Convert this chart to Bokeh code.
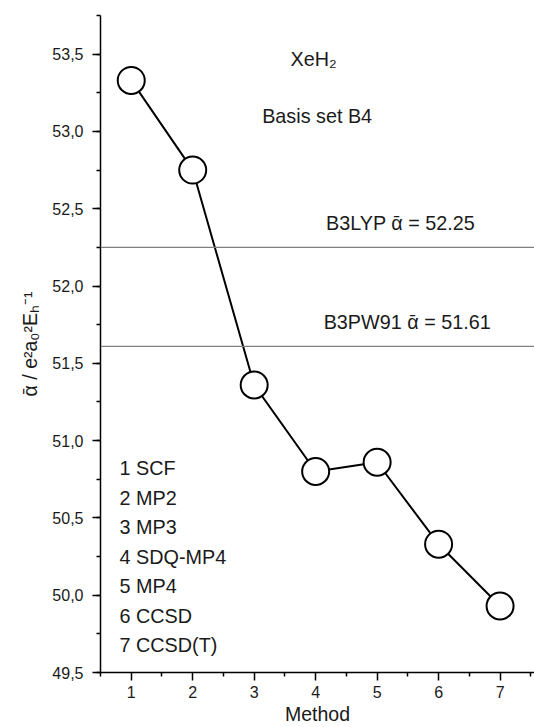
from bokeh.plotting import figure
from bokeh.models import FixedTicker, CustomJSTickFormatter, Span, Label, ColumnDataSource
from bokeh.core.properties import value
from bokeh.embed import file_html
from bokeh.resources import INLINE

# Data
methods = [1, 2, 3, 4, 5, 6, 7]
alpha_mean = [53.33, 52.75, 51.36, 50.80, 50.86, 50.33, 49.93]
method_names = ["1 SCF", "2 MP2", "3 MP3", "4 SDQ-MP4", "5 MP4", "6 CCSD", "7 CCSD(T)"]
b3lyp_value = 52.25
b3pw91_value = 51.61
x_ticks = [1, 2, 3, 4, 5, 6, 7]
y_ticks = [49.5, 50.0, 50.5, 51.0, 51.5, 52.0, 52.5, 53.0, 53.5]

FONT = "Liberation Sans"
TXT = "#1a1a1a"
ABAR = "\u1fb1"

p = figure(width=534, height=727, x_range=(0.5, 7.56), y_range=(49.5, 53.75),
           output_backend="svg", toolbar_location=None,
           min_border_left=100, min_border_right=0, min_border_top=15, min_border_bottom=0)
p.outline_line_color = None
p.xgrid.visible = False
p.ygrid.visible = False
p.background_fill_color = "white"

for ax in (p.xaxis[0], p.yaxis[0]):
    ax.axis_line_width = 1.5
    ax.axis_line_color = "black"
    ax.major_tick_line_width = 1.5
    ax.minor_tick_line_width = 1.5
    ax.major_tick_in = 0
    ax.minor_tick_in = 0
    ax.major_tick_out = 8
    ax.minor_tick_out = 4
    ax.major_label_text_font = FONT
    ax.major_label_text_font_size = "16px"
    ax.major_label_text_color = TXT
    ax.axis_label_text_font = FONT
    ax.axis_label_text_font_size = "19.5px"
    ax.axis_label_text_font_style = "normal"
    ax.axis_label_text_color = TXT
    ax.major_label_standoff = 9

p.xaxis.ticker = FixedTicker(ticks=x_ticks, minor_ticks=[t - 0.5 for t in x_ticks] + [7.5])
yt_minor = [y + 0.25 for y in y_ticks] + [y for y in y_ticks]
p.yaxis.ticker = FixedTicker(ticks=y_ticks, minor_ticks=yt_minor)
p.yaxis.formatter = CustomJSTickFormatter(code="return tick.toFixed(1).replace('.', ',');")
p.xaxis.axis_label = "Method"
p.xaxis.major_label_standoff = 5
p.xaxis.axis_label_standoff = 2
p.yaxis.axis_label = ABAR + " / e\u00b2a\u2080\u00b2E\u2095\u207b\u00b9"
p.yaxis.axis_label_standoff = 8

# reference lines
for v in (b3lyp_value, b3pw91_value):
    p.add_layout(Span(location=v, dimension="width", line_color="#7f7f7f", line_width=1.3))

src = ColumnDataSource(dict(x=methods, y=alpha_mean))
p.line("x", "y", source=src, line_color="black", line_width=2)
p.scatter("x", "y", source=src, size=27, fill_color="white", line_color="black", line_width=2)

def lab(x, y, text, size="19.8px"):
    p.add_layout(Label(x=x, y=y, text=text, text_font=FONT, text_font_size=size,
                       text_color=TXT, text_baseline="alphabetic", text_align="left"))

lab(3.59, 53.47, "XeH\u2082")
lab(3.13, 53.10, "Basis set B4")
lab(4.17, 52.41, "B3LYP " + ABAR + " = %.2f" % b3lyp_value)
lab(4.13, 51.77, "B3PW91 " + ABAR + " = %.2f" % b3pw91_value)

step = 29.3 / 154.0
tsrc = ColumnDataSource(dict(x=[0.81] * len(method_names),
                             y=[50.82 - i * step for i in range(len(method_names))],
                             t=method_names))
p.text("x", "y", text="t", source=tsrc, text_font=value(FONT), text_font_size="19.8px",
       text_color=TXT, text_baseline="alphabetic", text_align="left")

open("out.html", "w").write(file_html(p, INLINE))
